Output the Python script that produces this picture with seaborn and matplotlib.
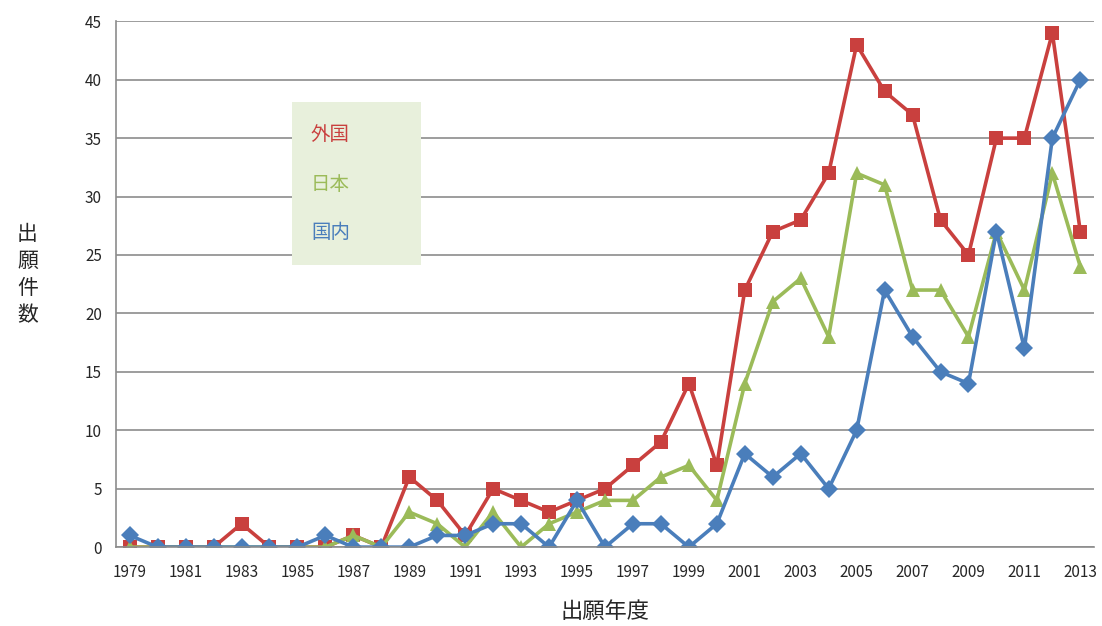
import seaborn as sns
import pandas as pd
import matplotlib
matplotlib.use("Agg")
import matplotlib.pyplot as plt
from matplotlib.patches import Rectangle

# データ
years = list(range(1979, 2014))
foreign = [0, 0, 0, 0, 2, 0, 0, 0, 1, 0, 6, 4, 1, 5, 4, 3, 4, 5, 7, 9, 14, 7,
           22, 27, 28, 32, 43, 39, 37, 28, 25, 35, 35, 44, 27]
japan = [0, 0, 0, 0, 0, 0, 0, 0, 1, 0, 3, 2, 0, 3, 0, 2, 3, 4, 4, 6, 7, 4,
         14, 21, 23, 18, 32, 31, 22, 22, 18, 27, 22, 32, 24]
domestic = [1, 0, 0, 0, 0, 0, 0, 1, 0, 0, 0, 1, 1, 2, 2, 0, 4, 0, 2, 2, 0, 2,
            8, 6, 8, 5, 10, 22, 18, 15, 14, 27, 17, 35, 40]
series_names = ["外国", "日本", "国内"]
colors = {"外国": "#C9403E", "日本": "#9BBB59", "国内": "#4A7EBB"}
markers = {"外国": "s", "日本": "^", "国内": "D"}

df = pd.DataFrame({"year": years, "外国": foreign, "日本": japan, "国内": domestic})
df["idx"] = range(len(years))
long = df.melt(id_vars=["year", "idx"], value_vars=series_names,
               var_name="series", value_name="count")

sns.set_style("white")
plt.rcParams["font.family"] = ["Noto Sans CJK JP", "DejaVu Sans"]

fig = plt.figure(figsize=(11.02, 6.26), dpi=100)
ax = fig.add_axes([0.105, 0.126, 0.888, 0.84])

sns.lineplot(data=long, x="idx", y="count", hue="series", style="series",
             palette=colors, markers=markers, dashes=False, linewidth=2.6,
             markersize=9.5, markeredgewidth=0, legend=False, ax=ax,
             hue_order=series_names, style_order=series_names)

ax.set_xlim(-0.5, len(years) - 0.5)
ax.set_ylim(0, 45)
ax.set_yticks(range(0, 46, 5))
ax.yaxis.grid(True, color="#8c8c8c", linewidth=1.2)
ax.set_axisbelow(True)

ax.set_xticks(range(0, len(years), 2))
ax.set_xticklabels([str(y) for y in years[::2]])
ax.set_xticks([i - 0.5 for i in range(len(years) + 1)], minor=True)
ax.tick_params(axis="x", which="major", length=0, labelsize=11, pad=12)
ax.tick_params(axis="x", which="minor", length=4, direction="in", color="#8c8c8c")
ax.tick_params(axis="y", length=0, labelsize=11, pad=10)

for s in ["top", "right"]:
    ax.spines[s].set_visible(False)
for s in ["left", "bottom"]:
    ax.spines[s].set_color("#8c8c8c")
    ax.spines[s].set_linewidth(1.2)

ax.set_xlabel("出願年度", fontsize=16, labelpad=14)
ax.set_ylabel("")
fig.text(0.025, 0.562, "出\n願\n件\n数", fontsize=15, ha="center", va="center",
         linespacing=1.3)

# 凡例ボックス
fig.patches.append(Rectangle((292 / 1102, 1 - 265 / 626), 129 / 1102, 163 / 626,
                             transform=fig.transFigure, facecolor="#E8F0DC",
                             edgecolor="none", zorder=5))
for name, ypix in zip(series_names, [135, 185, 233]):
    fig.text(311 / 1102, 1 - ypix / 626, name, color=colors[name], fontsize=14,
             ha="left", va="center", zorder=6)

plt.savefig("out.png", dpi=100)
